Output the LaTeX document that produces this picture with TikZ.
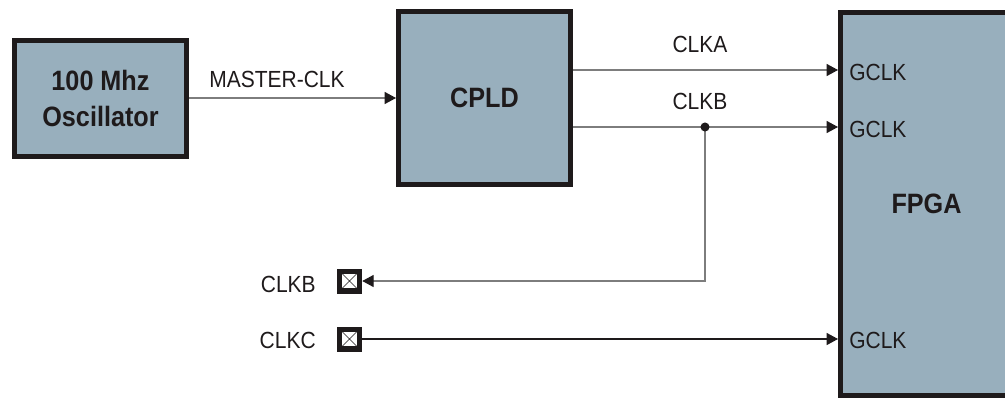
\documentclass[tikz,border=0pt]{standalone}
\usepackage{fontspec}
\setmainfont{Liberation Sans}[FakeStretch=0.9]
\usetikzlibrary{arrows.meta}
\definecolor{boxfill}{RGB}{152,175,189}
\definecolor{ink}{RGB}{30,26,27}
\definecolor{wiregray}{RGB}{125,125,125}
\begin{document}
\begin{tikzpicture}[x=0.75pt,y=-0.75pt,
  blk/.style={draw=ink,fill=boxfill,line width=3.75pt,inner sep=0pt,
    font=\fontsize{21}{27}\selectfont\bfseries,text=ink,align=center,
    minimum width=129pt},
  lbl/.style={font=\fontsize{17.5}{20}\selectfont,text=ink,inner sep=0pt},
  wire/.style={draw=wiregray,line width=0.8pt},
  bwire/.style={draw=ink,line width=0.8pt},
  arr/.style={-{Triangle[length=8.5pt,width=9pt,color=ink]}},
  port/.style={fill=ink,minimum size=18.75pt,inner sep=0pt,
    path picture={
      \fill[white] ([shift={(-5.6pt,-5.6pt)}]path picture bounding box.center)
        rectangle ([shift={(5.6pt,5.6pt)}]path picture bounding box.center);
      \draw[ink,line width=0.5pt]
        ([shift={(-5.6pt,-5.6pt)}]path picture bounding box.center)
        -- ([shift={(5.6pt,5.6pt)}]path picture bounding box.center)
        ([shift={(-5.6pt,5.6pt)}]path picture bounding box.center)
        -- ([shift={(5.6pt,-5.6pt)}]path picture bounding box.center);
    }}]
\useasboundingbox (0,0) rectangle (1005,397);
\clip (0,0) rectangle (1005,397);

% blocks
\node[blk,minimum height=87pt] (osc) at (100.5,98) {100 Mhz\\Oscillator};
\node[blk,minimum height=129.75pt] (cpld) at (484.5,98) {CPLD};
\node[blk,minimum height=287.25pt] (fpga) at (926.5,203.5) {FPGA};

% ports
\node[port] (pb) at (349.5,281) {};
\node[port] (pc) at (349.5,339) {};

% coordinates on the FPGA edge
\coordinate (ga) at (838,70);
\coordinate (gb) at (838,127);
\coordinate (jb) at (705,127);

% wires
\draw[wire,arr] (osc.east) -- (cpld.west);
\draw[wire,arr] (ga -| cpld.east) -- (ga);
\draw[wire] (gb -| cpld.east) -- (jb);
\draw[wire,arr] (jb) -- (gb);
\draw[wire,arr] (jb) |- (pb.east);
\draw[bwire,arr] (pc.east) -- (pc.east -| fpga.west);
\fill[ink] (jb) circle[radius=3.4pt];

% labels
\node[lbl,anchor=base] (lmaster) at (277,87) {MASTER-CLK};
\node[lbl,anchor=base] (lclka) at (700,52) {CLKA};
\node[lbl,anchor=base] (lclkb) at (700,109) {CLKB};
\node[lbl,anchor=base west] (g1) at (849,80) {GCLK};
\node[lbl,anchor=base west] (g2) at (849,137) {GCLK};
\node[lbl,anchor=base west] (g3) at (849,348) {GCLK};
\node[lbl,anchor=base east] (lpb) at (316,292) {CLKB};
\node[lbl,anchor=base east] (lpc) at (316,348) {CLKC};
\end{tikzpicture}
\end{document}
